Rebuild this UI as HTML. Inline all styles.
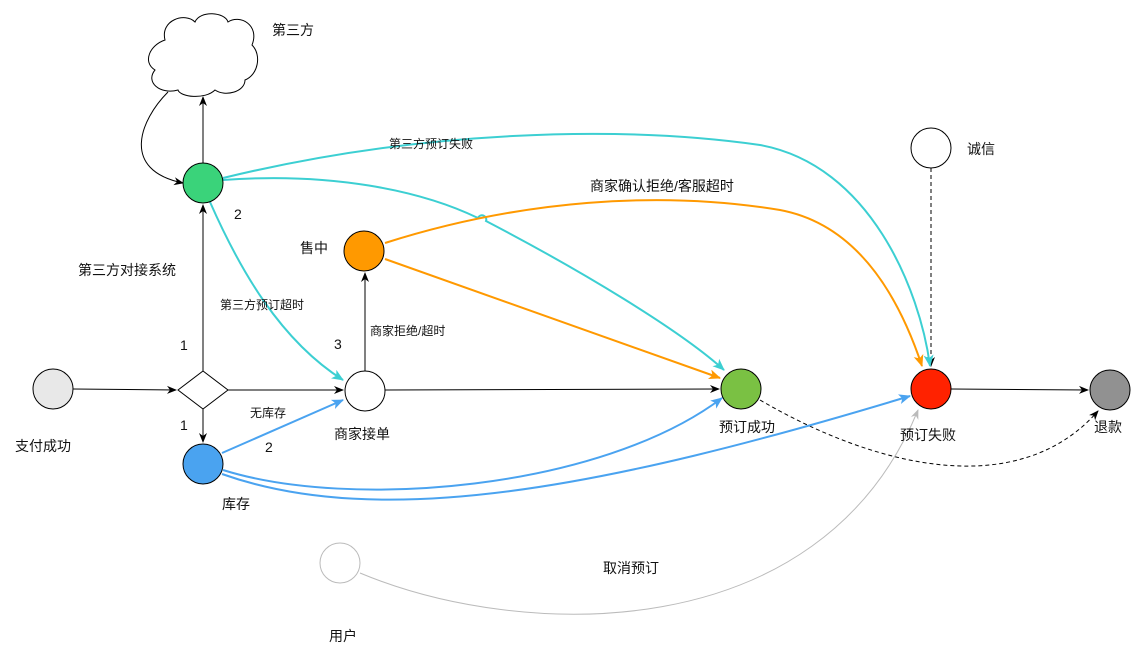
<!DOCTYPE html>
<html><head><meta charset="utf-8">
<style>
html,body{margin:0;padding:0;background:#fff;}
svg{display:block;}
text{font-family:"Liberation Sans","Noto Sans CJK SC",sans-serif;fill:#111;}
</style></head>
<body>
<svg width="1141" height="660" viewBox="0 0 1141 660" xmlns="http://www.w3.org/2000/svg">
<defs>
<marker id="ak" markerWidth="10" markerHeight="10" refX="9" refY="5" orient="auto" markerUnits="userSpaceOnUse"><path d="M0,1 L10,5 L0,9 L3,5 Z" fill="#000"/></marker>
<marker id="at" markerWidth="12" markerHeight="12" refX="11" refY="6" orient="auto" markerUnits="userSpaceOnUse"><path d="M0,1 L12,6 L0,11 L3,6 Z" fill="#3ccfd2"/></marker>
<marker id="ao" markerWidth="12" markerHeight="12" refX="11" refY="6" orient="auto" markerUnits="userSpaceOnUse"><path d="M0,1 L12,6 L0,11 L3,6 Z" fill="#ff9900"/></marker>
<marker id="ab" markerWidth="12" markerHeight="12" refX="11" refY="6" orient="auto" markerUnits="userSpaceOnUse"><path d="M0,1 L12,6 L0,11 L3,6 Z" fill="#4aa3f0"/></marker>
<marker id="ag" markerWidth="10" markerHeight="10" refX="9" refY="5" orient="auto" markerUnits="userSpaceOnUse"><path d="M0,1 L10,5 L0,9 L3,5 Z" fill="#bbb"/></marker>
</defs>

<!-- cloud -->
<path d="M165,40 C160,20 185,12 195,22 C200,10 225,12 228,22 C240,14 260,25 252,45 C262,55 258,75 245,80 C245,92 225,97 215,90 C205,100 180,97 178,90 C160,95 145,82 155,70 C142,62 150,45 165,40 Z" fill="#fff" stroke="#000" stroke-width="1"/>

<!-- black edges -->
<path d="M73,389 L176,390" stroke="#000" fill="none" marker-end="url(#ak)"/>
<path d="M228,390 L343,390" stroke="#000" fill="none" marker-end="url(#ak)"/>
<path d="M203,371 L203,205" stroke="#000" fill="none" marker-end="url(#ak)"/>
<path d="M203,409 L203,442" stroke="#000" fill="none" marker-end="url(#ak)"/>
<path d="M203,163 L203,97" stroke="#000" fill="none" marker-end="url(#ak)"/>
<path d="M168,92 C140,120 120,170 183,183" stroke="#000" fill="none" marker-end="url(#ak)"/>
<path d="M365,371 L365,273" stroke="#000" fill="none" marker-end="url(#ak)"/>
<path d="M385,390 L719,389" stroke="#000" fill="none" marker-end="url(#ak)"/>
<path d="M951,389 L1088,390" stroke="#000" fill="none" marker-end="url(#ak)"/>
<path d="M931,168 L931,366" stroke="#000" fill="none" stroke-dasharray="4,3" marker-end="url(#ak)"/>
<path d="M760,400 C880,470 1020,500 1098,411" stroke="#000" fill="none" stroke-dasharray="4,3" marker-end="url(#ak)"/>

<!-- teal -->
<path d="M223,178 C420,130 620,125 760,145 C870,165 920,290 930,366" stroke="#3ccfd2" stroke-width="2" fill="none" marker-end="url(#at)"/>
<path d="M223,180 C330,172 420,190 478,218 a4,4 0 0 1 8,3 C580,270 680,330 724,370" stroke="#3ccfd2" stroke-width="2" fill="none" marker-end="url(#at)"/>
<path d="M210,202 C240,270 280,340 343,380" stroke="#3ccfd2" stroke-width="2" fill="none" marker-end="url(#at)"/>

<!-- orange -->
<path d="M385,243 C520,200 660,190 780,210 C860,225 900,300 922,366" stroke="#ff9900" stroke-width="2" fill="none" marker-end="url(#ao)"/>
<path d="M385,259 L720,378" stroke="#ff9900" stroke-width="2" fill="none" marker-end="url(#ao)"/>

<!-- blue -->
<path d="M222,453 L343,400" stroke="#4aa3f0" stroke-width="2" fill="none" marker-end="url(#ab)"/>
<path d="M223,470 C350,510 600,490 722,398" stroke="#4aa3f0" stroke-width="2" fill="none" marker-end="url(#ab)"/>
<path d="M222,474 C380,530 600,490 910,396" stroke="#4aa3f0" stroke-width="2" fill="none" marker-end="url(#ab)"/>

<!-- grey -->
<path d="M360,573 C520,640 820,650 918,410" stroke="#bbb" stroke-width="1" fill="none" marker-end="url(#ag)"/>

<!-- nodes -->
<circle cx="53" cy="389" r="20" fill="#e8e8e8" stroke="#000"/>
<path d="M178,390 L203,371 L228,390 L203,409 Z" fill="#fff" stroke="#000"/>
<circle cx="203" cy="183" r="20" fill="#3ad37a" stroke="#000"/>
<circle cx="203" cy="464" r="20" fill="#4aa3f0" stroke="#000"/>
<circle cx="365" cy="391" r="20" fill="#fff" stroke="#000"/>
<circle cx="364" cy="251" r="20" fill="#ff9900" stroke="#000"/>
<circle cx="741" cy="389" r="20" fill="#7ac143" stroke="#000"/>
<circle cx="931" cy="389" r="20" fill="#ff2200" stroke="#000"/>
<circle cx="1110" cy="390" r="20" fill="#919191" stroke="#000"/>
<circle cx="931" cy="148" r="20" fill="#fff" stroke="#000"/>
<circle cx="340" cy="563" r="20" fill="#fff" stroke="#bbb"/>

<!-- labels -->
<g font-size="14">
<text x="272" y="35">第三方</text>
<text x="967" y="154">诚信</text>
<text x="590" y="191">商家确认拒绝/客服超时</text>
<text x="300" y="253">售中</text>
<text x="78" y="275">第三方对接系统</text>
<text x="15" y="451">支付成功</text>
<text x="334" y="439">商家接单</text>
<text x="719" y="432">预订成功</text>
<text x="900" y="440">预订失败</text>
<text x="1094" y="432">退款</text>
<text x="222" y="509">库存</text>
<text x="603" y="573">取消预订</text>
<text x="329" y="641">用户</text>
<text x="180" y="350">1</text>
<text x="180" y="430">1</text>
<text x="234" y="219">2</text>
<text x="265" y="452">2</text>
<text x="334" y="349">3</text>
</g>
<g font-size="12">
<text x="389" y="148">第三方预订失败</text>
<text x="220" y="309">第三方预订超时</text>
<text x="370" y="335">商家拒绝/超时</text>
<text x="250" y="417">无库存</text>
</g>
</svg>
</body></html>
